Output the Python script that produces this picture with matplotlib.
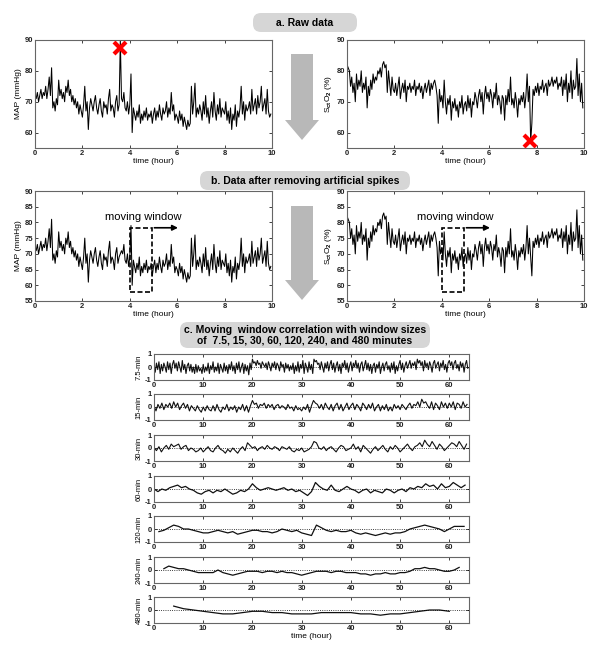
import numpy as np
import matplotlib.pyplot as plt
from matplotlib.patches import Rectangle, FancyArrow, FancyBboxPatch

plt.rcParams['font.family'] = ['Liberation Sans', 'DejaVu Sans']
plt.rcParams['font.weight'] = 'bold'
plt.rcParams['axes.unicode_minus'] = False
plt.rcParams['mathtext.fontset'] = 'custom'
plt.rcParams['mathtext.rm'] = 'Liberation Sans:bold'
plt.rcParams['mathtext.it'] = 'Liberation Sans:bold'
plt.rcParams['mathtext.bf'] = 'Liberation Sans:bold'

# =====================================================
# 1. DATA
# =====================================================

# raw signals, one sample every 3 min over 10 hours
MAP_RAW = [
    72, 71, 73, 70, 72, 74, 71, 73, 72, 75, 71, 74, 78, 72, 81, 68, 70, 67, 71, 69,
    77, 72, 74, 71, 73, 70, 75, 73, 77, 72, 74, 70, 72, 69, 71, 68, 70, 66, 69, 67,
    65, 69, 75, 67, 70, 61, 68, 71, 69, 67, 70, 72, 68, 66, 69, 71, 67, 65, 70, 68,
    69, 66, 71, 74, 67, 69, 68, 65, 70, 72, 67, 69, 90, 71, 70, 73, 68, 67, 70, 66,
    69, 79, 60, 68, 66, 64, 67, 65, 69, 63, 66, 64, 67, 65, 68, 64, 66, 65, 67, 63,
    66, 68, 64, 67, 65, 69, 66, 64, 68, 66, 67, 70, 65, 68, 66, 73, 67, 69, 64, 66,
    65, 63, 67, 64, 66, 62, 65, 63, 61, 64, 62, 63, 75, 66, 70, 76, 65, 68, 66, 69,
    67, 64, 70, 66, 72, 65, 68, 63, 67, 70, 65, 73, 67, 64, 69, 66, 71, 65, 68, 67,
    66, 70, 64, 67, 63, 68, 61, 66, 64, 69, 62, 67, 65, 68, 75, 66, 70, 64, 69, 67,
    68, 70, 66, 74, 67, 69, 71, 66, 72, 68, 70, 75, 67, 69, 71, 66, 74, 67, 65, 66,
]

SCTO2_RAW = [
    82, 81, 80, 75, 78, 73, 76, 70, 79, 74, 77, 75, 80, 73, 76, 74, 78, 68, 75, 72,
    77, 74, 79, 76, 78, 77, 80, 79, 81, 78, 82, 83, 81, 82, 73, 80, 76, 72, 78, 74,
    73, 76, 72, 75, 78, 71, 74, 76, 73, 77, 70, 75, 74, 76, 73, 75, 74, 77, 72, 75,
    74, 76, 73, 75, 71, 74, 76, 73, 75, 77, 72, 76, 74, 76, 77, 75, 72, 63, 74, 70,
    72, 68, 77, 70, 66, 71, 69, 72, 64, 70, 68, 71, 67, 69, 65, 70, 68, 72, 66, 69,
    70, 67, 72, 68, 71, 65, 70, 69, 73, 71, 68, 72, 74, 70, 73, 66, 72, 75, 71, 73,
    70, 74, 72, 68, 73, 71, 76, 69, 72, 70, 66, 72, 71, 64, 72, 69, 74, 70, 78, 69,
    71, 68, 73, 70, 65, 71, 69, 72, 70, 73, 68, 72, 79, 70, 75, 57, 63, 74, 72, 75,
    73, 76, 72, 75, 74, 77, 73, 75, 76, 72, 77, 75, 76, 78, 75, 77, 76, 78, 74, 76,
    75, 78, 72, 77, 74, 79, 70, 76, 73, 80, 71, 77, 74, 75, 84, 72, 79, 70, 76, 68,
]

# moving-window correlation, one list per window size
CORR_7_5 = [
    0.1, -0.4, 0.3, -0.2, 0.4, -0.5, 0.2, -0.3, 0.3, 0.0, -0.4, 0.4, -0.2, 0.3, -0.5, 0.2,
    0.5, -0.1, 0.3, -0.3, 0.4, 0.0, -0.4, 0.5, -0.2, 0.2, -0.5, 0.1, 0.3, -0.3, 0.2, -0.4,
    0.0, -0.5, 0.2, -0.4, 0.1, -0.3, -0.1, -0.5, 0.2, -0.4, 0.0, -0.3, 0.3, -0.5, 0.1, -0.2,
    0.4, -0.4, 0.0, -0.3, 0.3, -0.5, 0.2, -0.1, -0.4, 0.3, -0.3, 0.1, -0.5, 0.2, -0.2, 0.4,
    -0.3, 0.1, -0.5, 0.3, -0.2, 0.4, -0.4, 0.0, 0.3, -0.5, 0.2, -0.3, 0.1, -0.6, 0.3, -0.2,
    0.6, 0.3, 0.4, 0.1, 0.5, 0.2, 0.3, -0.1, 0.4, 0.2, 0.0, 0.3, -0.2, 0.4, 0.1, -0.3,
    0.3, 0.0, 0.4, -0.2, 0.3, 0.1, -0.3, 0.4, 0.0, 0.2, -0.4, 0.3, -0.1, 0.2, -0.3, 0.1,
    -0.2, 0.3, -0.5, 0.1, -0.3, 0.4, -0.4, 0.2, -0.1, 0.5, -0.5, 0.3, 0.0, -0.4, 0.4, -0.2,
    0.2, -0.5, 0.6, 0.4, 0.5, 0.2, 0.3, -0.2, 0.4, 0.0, -0.4, 0.3, -0.1, 0.4, -0.3, 0.2,
    0.5, -0.2, 0.3, -0.4, 0.1, 0.4, -0.3, 0.2, -0.5, 0.3, 0.0, 0.5, -0.2, 0.3, -0.4, 0.1,
    0.4, -0.3, 0.3, 0.0, 0.5, -0.1, 0.3, -0.4, 0.2, 0.4, -0.3, 0.1, 0.5, -0.2, 0.3, -0.3,
    0.2, -0.5, 0.1, 0.3, -0.4, 0.2, -0.1, 0.4, -0.5, 0.0, 0.3, -0.3, 0.2, 0.4, -0.2, 0.1,
    -0.4, 0.3, -0.2, 0.4, -0.5, 0.1, -0.3, 0.2, 0.5, -0.2, 0.3, -0.4, 0.1, 0.4, -0.1, 0.2,
    0.5, -0.1, 0.3, 0.1, 0.4, -0.2, 0.6, 0.3, 0.5, 0.1, 0.4, -0.3, 0.5, 0.0, 0.3, -0.2,
    0.4, 0.1, -0.4, 0.3, 0.5, -0.1, 0.2, 0.4, -0.3, 0.3, 0.0, 0.5, -0.2, 0.2, -0.4, 0.3,
    0.5, 0.1, 0.4, -0.2, 0.3, 0.5, -0.1, 0.2, -0.3, 0.4, 0.0, 0.3, -0.4, 0.2, 0.5, -0.1,
]
CORR_15 = [
    0.1, -0.3, 0.2, -0.1, 0.3, -0.2, 0.2, 0.0, 0.3, -0.1,
    0.4, 0.0, 0.3, -0.2, 0.1, 0.3, -0.1, 0.2, -0.3, 0.1,
    -0.1, -0.3, 0.1, -0.2, -0.4, 0.0, -0.3, 0.1, -0.2, -0.3,
    0.1, -0.3, 0.2, -0.2, -0.4, 0.0, -0.2, 0.2, -0.3, 0.0,
    -0.2, 0.1, -0.4, 0.0, -0.2, 0.2, -0.3, 0.1, -0.4, 0.1,
    0.5, 0.2, 0.3, -0.1, 0.2, 0.1, 0.3, -0.1, 0.2, 0.0,
    0.2, -0.2, 0.1, 0.2, -0.1, 0.1, 0.0, -0.2, 0.2, -0.1,
    0.0, -0.3, 0.1, -0.2, -0.1, -0.3, 0.0, -0.2, 0.2, -0.4,
    0.1, 0.5, 0.3, 0.2, -0.1, 0.2, -0.2, 0.3, 0.0, -0.2,
    0.2, -0.3, 0.1, 0.3, -0.2, 0.2, -0.3, 0.0, 0.3, -0.2,
    0.1, 0.3, -0.2, 0.2, 0.0, -0.3, 0.3, 0.1, -0.2, 0.2,
    -0.1, 0.3, -0.3, 0.0, 0.2, -0.3, 0.1, -0.2, 0.2, -0.3,
    0.0, -0.3, 0.2, -0.1, 0.1, -0.2, 0.2, 0.0, -0.2, 0.1,
    0.3, -0.1, 0.2, 0.1, 0.4, 0.0, 0.6, 0.3, 0.4, 0.1,
    -0.1, 0.4, -0.2, 0.3, 0.1, -0.2, 0.4, 0.0, 0.3, -0.1,
    0.3, 0.0, 0.4, -0.2, 0.3, 0.2, -0.1, 0.4, 0.0, 0.2,
]
CORR_30 = [
    0.0, -0.2, 0.1, -0.3, 0.0, 0.2, -0.1, 0.3, 0.1, 0.2, 0.3, -0.1, 0.1, 0.2, -0.2, 0.0,
    -0.1, -0.3, -0.2, 0.0, -0.3, -0.1, 0.1, -0.2, -0.3, 0.0, 0.2, -0.1, -0.2, -0.4, -0.1, -0.3,
    0.0, -0.2, -0.4, -0.1, 0.1, -0.2, 0.4, 0.2, 0.0, 0.1, -0.2, 0.0, 0.1, -0.1, 0.2, 0.0,
    -0.1, 0.1, 0.0, -0.2, 0.1, 0.0, -0.1, 0.1, -0.2, -0.3, -0.1, -0.2, 0.0, -0.3, -0.2, -0.1,
    0.1, 0.5, 0.4, 0.0, -0.1, 0.1, -0.2, 0.0, 0.1, -0.1, -0.3, 0.0, 0.2, 0.1, -0.2, -0.1,
    0.0, 0.3, -0.1, 0.1, -0.3, 0.2, 0.0, -0.2, -0.4, -0.1, 0.1, -0.2, 0.0, 0.2, -0.1, -0.3,
    0.1, -0.1, 0.2, 0.0, -0.3, -0.1, 0.1, 0.3, 0.0, -0.2, 0.1, 0.2, 0.4, 0.1, 0.6, 0.3,
    0.1, 0.5, 0.2, -0.1, 0.3, 0.1, -0.2, 0.0, 0.2, 0.4, 0.3, 0.1, 0.5, 0.2, -0.1, 0.3,
]
CORR_60 = [
    0.0, -0.2, 0.0, -0.1, 0.1, 0.2, 0.3, 0.1, 0.2, 0.0,
    -0.1, -0.3, -0.4, -0.2, -0.1, -0.3, -0.1, -0.2, 0.0, -0.2,
    -0.4, -0.3, -0.1, -0.2, 0.0, 0.4, 0.1, -0.1, 0.0, 0.1,
    0.0, -0.1, 0.0, 0.1, -0.1, 0.0, -0.2, -0.1, -0.3, -0.5,
    -0.2, 0.5, 0.2, 0.0, -0.1, 0.3, -0.1, -0.2, 0.0, 0.2,
    0.0, -0.1, -0.3, -0.1, 0.0, -0.3, -0.1, -0.2, -0.3, 0.0,
    -0.1, -0.3, -0.1, 0.0, -0.2, 0.1, 0.0, 0.2, 0.1, 0.4,
    0.2, 0.3, 0.0, 0.4, 0.1, 0.2, 0.5, 0.3, 0.1, 0.3,
]
CORR_120 = [
    -0.2, -0.1, 0.1, 0.3, 0.2, 0.0, 0.0, -0.1, -0.2, -0.3,
    -0.3, -0.2, -0.1, -0.2, -0.3, -0.2, -0.4, -0.3, -0.2, -0.1,
    -0.1, -0.2, -0.2, -0.3, -0.2, 0.0, -0.1, -0.2, -0.1, -0.3,
    -0.4, -0.5, 0.3, 0.1, -0.1, -0.2, -0.1, -0.2, -0.2, -0.1,
    -0.3, -0.4, -0.3, -0.4, -0.5, -0.4, -0.3, -0.4, -0.3, -0.3,
    -0.2, 0.0, 0.1, 0.2, 0.3, 0.2, 0.1, 0.0, -0.2, 0.0,
    0.2, 0.2, 0.2,
]
CORR_240 = [
    0.1, 0.3, 0.2, 0.1, 0.1, 0.0, -0.1, -0.2, -0.2, -0.2,
    -0.2, 0.0, -0.2, -0.3, -0.4, -0.3, -0.2, -0.1, -0.1, -0.1,
    -0.2, -0.1, -0.1, -0.2, -0.1, -0.2, -0.2, -0.3, -0.4, -0.3,
    -0.2, -0.1, -0.1, -0.1, -0.2, -0.1, -0.1, -0.2, -0.2, -0.2,
    -0.3, -0.3, -0.4, -0.3, -0.3, -0.2, -0.3, -0.3, -0.2, -0.2,
    -0.1, 0.1, 0.1, 0.2, 0.1, 0.1, 0.0, -0.1, -0.1, 0.0,
    0.2,
]
CORR_480 = [
    0.3, 0.1, 0.0, -0.1, -0.2, -0.3, -0.3, -0.2, -0.1, -0.1,
    -0.2, -0.2, -0.3, -0.3, -0.3, -0.2, -0.2, -0.2, -0.2, -0.3,
    -0.3, -0.4, -0.3, -0.3, -0.2, -0.1, 0.0, 0.0, -0.1,
]

WINDOW_LABELS = ["7.5-min", "15-min", "30-min", "60-min", "120-min", "240-min", "480-min"]
CORR_SERIES = [CORR_7_5, CORR_15, CORR_30, CORR_60, CORR_120, CORR_240, CORR_480]
# (first sample time, sample step) in hours for each correlation series
CORR_TIMING = [(0, 0.25), (0, 0.4), (0, 0.5), (0, 0.8), (1, 1), (2, 1), (4, 2)]

t_raw = np.arange(len(MAP_RAW)) * 0.05
map_raw = np.array(MAP_RAW, dtype=float)
sct_raw = np.array(SCTO2_RAW, dtype=float)

# artificial spike removal
map_keep = np.abs(map_raw - np.median(map_raw)) < 15
sct_keep = np.abs(sct_raw - np.median(sct_raw)) < 15

# =====================================================
# 2. FIGURE
# =====================================================

W, H = 604, 659
fig = plt.figure(figsize=(W / 100, H / 100), dpi=100)

# overlay in pixel coords for boxes and big arrows
bg = fig.add_axes([0, 0, 1, 1])
bg.set_xlim(0, W)
bg.set_ylim(H, 0)
bg.axis("off")

box_color = "#d6d6d6"
for (x0, y0, w, h) in [(245, 13, 120, 19), (192, 171, 226, 19), (172, 322, 266, 26)]:
    bg.add_patch(FancyBboxPatch((x0 + 8, y0), w - 16, h,
                                boxstyle="round,pad=0,rounding_size=8",
                                fc=box_color, ec="none"))
bg.text(305, 22.5, "a. Raw data", ha="center", va="center", fontsize=7.5)
bg.text(305, 181, "b. Data after removing artificial spikes", ha="center", va="center", fontsize=7.5)
bg.text(305, 335, "c. Moving  window correlation with window sizes\nof  7.5, 15, 30, 60, 120, 240, and 480 minutes",
        ha="center", va="center", fontsize=7.5, linespacing=1.05)

arrow_color = "#b8b8b8"
bg.add_patch(FancyArrow(302, 54, 0, 86, width=22, head_width=34, head_length=20,
                        length_includes_head=True, fc=arrow_color, ec="none"))
bg.add_patch(FancyArrow(302, 206, 0, 94, width=22, head_width=34, head_length=20,
                        length_includes_head=True, fc=arrow_color, ec="none"))


def px_axes(x0, y0, x1, y1):
    return fig.add_axes([x0 / W, 1 - y1 / H, (x1 - x0) / W, (y1 - y0) / H])


def style(ax, size=5.5):
    ax.tick_params(direction="in", top=True, right=True, length=2.5, width=0.6,
                   labelsize=size, pad=1.5, colors="#222222")
    for s in ax.spines.values():
        s.set_linewidth(0.8)
        s.set_color("#666666")


SCT_LABEL = r"S$_{ct}$O$_2$ (%)"

# --- a. raw ---
ax = px_axes(35, 40, 272, 148)
ax.plot(t_raw, map_raw, color="k", lw=0.75)
ax.plot(3.6, 87.5, marker="x", color="red", ms=8, mew=3)
ax.set_xlim(0, 10)
ax.set_ylim(55, 90)
ax.set_yticks([60, 70, 80, 90])
ax.set_xticks(range(0, 11, 2))
ax.set_ylabel("MAP (mmHg)", fontsize=6, labelpad=2)
ax.set_xlabel("time (hour)", fontsize=6, labelpad=1)
style(ax)

ax = px_axes(347, 40, 584, 148)
ax.plot(t_raw, sct_raw, color="k", lw=0.75)
ax.plot(7.72, 57.3, marker="x", color="red", ms=8, mew=3)
ax.set_xlim(0, 10)
ax.set_ylim(55, 90)
ax.set_yticks([60, 70, 80, 90])
ax.set_xticks(range(0, 11, 2))
ax.set_ylabel(SCT_LABEL, fontsize=6, labelpad=2)
ax.set_xlabel("time (hour)", fontsize=6, labelpad=1)
style(ax)

# --- b. cleaned ---
for (x0, series, keep, ylab) in [(35, map_raw, map_keep, "MAP (mmHg)"),
                                 (347, sct_raw, sct_keep, SCT_LABEL)]:
    ax = px_axes(x0, 191, x0 + 237, 301)
    ax.plot(t_raw[keep], series[keep], color="k", lw=0.75)
    ax.add_patch(Rectangle((4.0, 58), 0.92, 20.3, fill=False, ls=(0, (3, 1.5)),
                           lw=1.2, ec="k", zorder=5))
    ax.annotate("", xy=(6.15, 78.3), xytext=(4.92, 78.3),
                arrowprops=dict(arrowstyle="-|>", lw=1.2, color="k", mutation_scale=8))
    ax.text(4.55, 81.8, "moving window", ha="center", va="center", fontsize=8,
            fontweight="normal")
    ax.set_xlim(0, 10)
    ax.set_ylim(55, 90)
    ax.set_yticks(range(55, 91, 5))
    ax.set_xticks(range(0, 11, 2))
    ax.set_ylabel(ylab, fontsize=6, labelpad=2)
    ax.set_xlabel("time (hour)", fontsize=6, labelpad=1)
    style(ax)

# --- c. moving window correlations ---
row_tops = [354, 394, 435, 476, 516, 557, 597]
for top, vals, (t0, dt), lab in zip(row_tops, CORR_SERIES, CORR_TIMING, WINDOW_LABELS):
    ax = px_axes(154, top, 469, top + 26)
    tc = t0 + np.arange(len(vals)) * dt
    lw = 0.8 if dt < 0.6 else 0.9
    ax.plot(tc, vals, color="#111111", lw=lw)
    ax.axhline(0, color="k", ls=":", lw=0.6)
    ax.set_xlim(0, 64)
    ax.set_ylim(-1, 1)
    ax.set_yticks([-1, 0, 1])
    ax.set_xticks(range(0, 61, 10))
    ax.set_ylabel(lab, fontsize=5.5, labelpad=2)
    style(ax, 5.5)
ax.set_xlabel("time (hour)", fontsize=6, labelpad=1)

fig.savefig("out.png", dpi=100)
